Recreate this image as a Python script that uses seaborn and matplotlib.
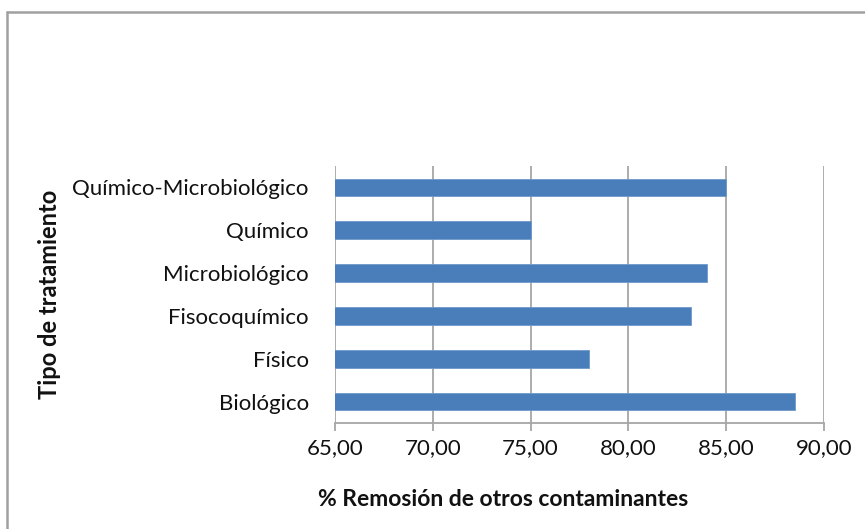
import matplotlib
matplotlib.use("Agg")
import matplotlib.pyplot as plt
from matplotlib.ticker import FuncFormatter, FixedLocator
from matplotlib.lines import Line2D
import seaborn as sns
import pandas as pd

categories = ["Químico-Microbiológico", "Químico", "Microbiológico",
              "Fisocoquímico", "Físico", "Biológico"]
values = [85.0, 75.0, 84.0, 83.2, 78.0, 88.5]
x_ticks = [65, 70, 75, 80, 85, 90]
x_label = "% Remosión de otros contaminantes"
y_label = "Tipo de tratamiento"

sns.set_theme(style="white")
plt.rcParams["font.family"] = ["Lato", "DejaVu Sans"]

df = pd.DataFrame({"tipo": categories, "valor": values})

fig = plt.figure(figsize=(8.65, 5.29), dpi=100)
ax = fig.add_axes([0.3873, 0.2004, 0.5653, 0.4858])

sns.barplot(data=df, x="valor", y="tipo", orient="h", order=categories,
            color="#4a7ebb", saturation=1, width=0.41, ax=ax,
            edgecolor="#6e99cc", linewidth=0.6, zorder=3)

ax.set_xlim(65, 90)
ax.xaxis.set_major_locator(FixedLocator(x_ticks))
ax.xaxis.set_major_formatter(FuncFormatter(lambda v, p: f"{v:.2f}".replace(".", ",")))
ax.grid(axis="x", color="#a6a6a6", linewidth=1.3, zorder=0)
ax.grid(axis="y", visible=False)
ax.set_axisbelow(True)

for s in ["top", "right", "left"]:
    ax.spines[s].set_visible(False)
ax.spines["bottom"].set_color("#a6a6a6")
ax.spines["bottom"].set_linewidth(1.3)

ax.tick_params(axis="x", bottom=True, length=6, width=1.3, color="#a6a6a6",
               labelsize=16, labelcolor="#111111", pad=5)
ax.tick_params(axis="y", left=False, length=0, labelsize=16, labelcolor="#111111", pad=19)

ax.set_xlabel(x_label, fontsize=16.5, fontweight="bold", color="#111111")
ax.xaxis.set_label_coords(0.344, -0.255)
ax.set_ylabel(y_label, fontsize=17, fontweight="bold", color="#111111")
ax.yaxis.set_label_coords(-0.56, 0.5)

# outer chart-area frame (partially visible)
W, H = 865, 529
fig.add_artist(Line2D([7.5 / W, 7.5 / W], [0, 1 - 12 / H], transform=fig.transFigure,
                      color="#a0a0a0", linewidth=1.8))
fig.add_artist(Line2D([7.5 / W, 1], [1 - 12 / H, 1 - 12 / H], transform=fig.transFigure,
                      color="#a0a0a0", linewidth=1.8))

fig.savefig("out.png", dpi=100, facecolor="white")
